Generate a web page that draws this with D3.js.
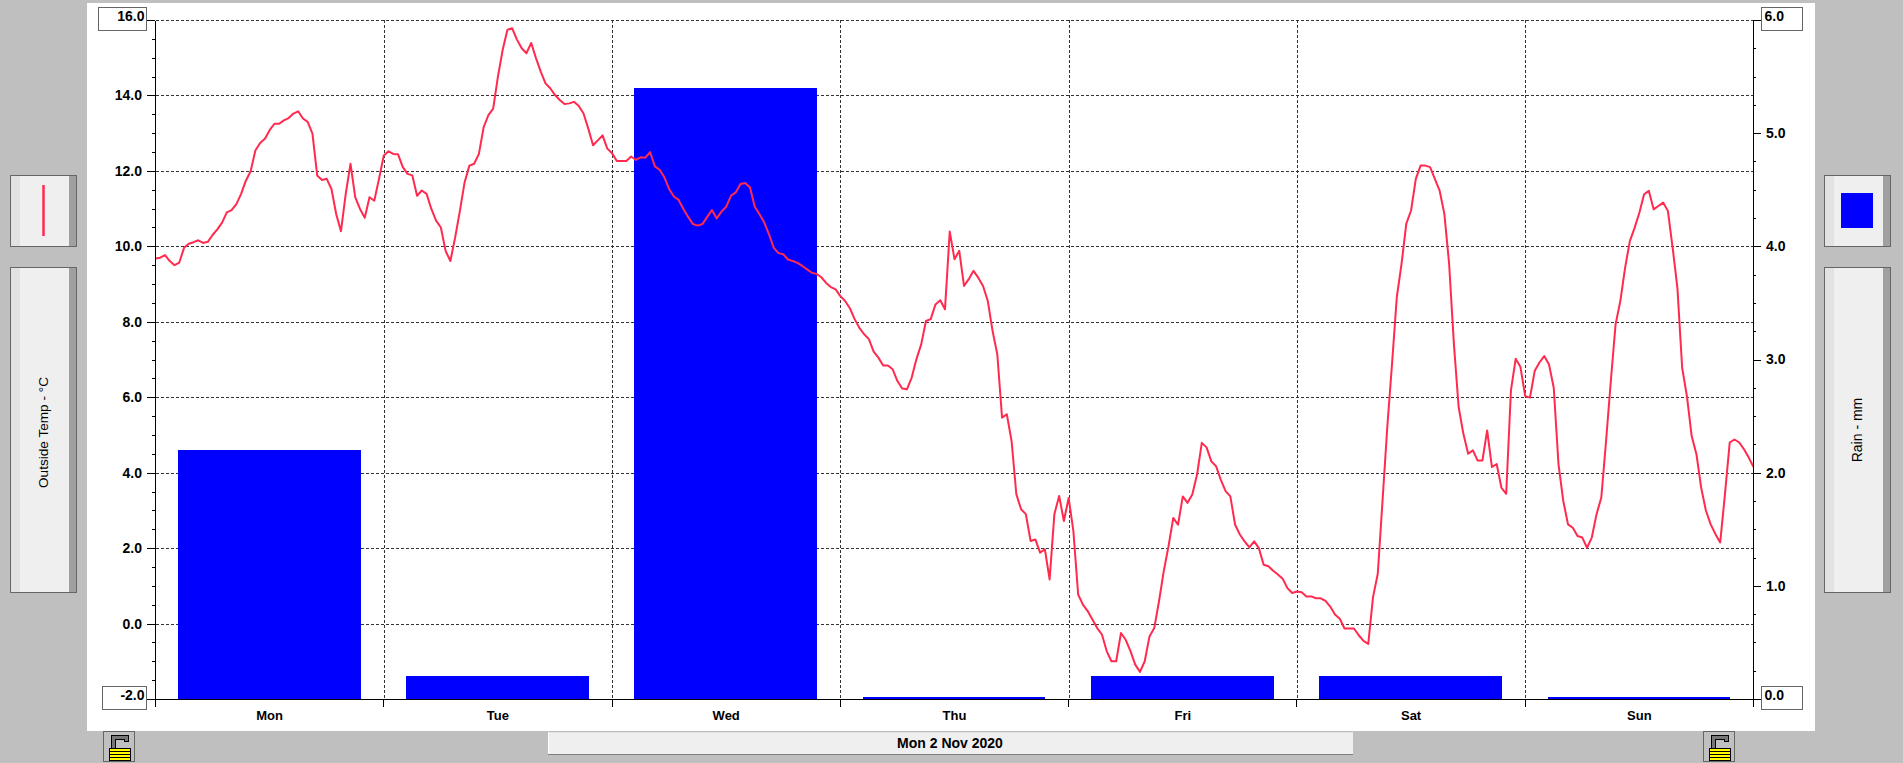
<!DOCTYPE html>
<html>
<head>
<meta charset="utf-8">
<title>Mon 2 Nov 2020</title>
<script src="https://cdnjs.cloudflare.com/ajax/libs/d3/7.8.5/d3.min.js"></script>
<style>
  body { margin: 0; background: #bfbfbf; overflow: hidden; }
  svg { display: block; }
  text { font-family: "Liberation Sans", Arial, sans-serif; fill: #000; }
  .tick-label { font-size: 14px; font-weight: bold; }
  .day-label { font-size: 13px; font-weight: bold; }
  .date-label { font-size: 14px; font-weight: bold; }
</style>
</head>
<body>
<div id="chart"></div>
<script>
// Week view of outside temperature (line, left axis) and daily rain (bars, right axis)

// Daily rain in mm
const days = ["Mon", "Tue", "Wed", "Thu", "Fri", "Sat", "Sun"];
const rain = [2.2, 0.2, 5.4, 0.02, 0.2, 0.2, 0.02];

// Outside temperature in deg C, one reading every half hour, per day
const tempMon = [9.68, 9.70, 9.77, 9.61, 9.50, 9.57, 9.96, 10.07, 10.11, 10.16, 10.09, 10.12,
  10.30, 10.45, 10.63, 10.90, 10.96, 11.12, 11.39, 11.74, 11.99, 12.54, 12.74, 12.85,
  13.08, 13.25, 13.25, 13.34, 13.40, 13.52, 13.58, 13.39, 13.30, 12.99, 11.88, 11.76,
  11.79, 11.52, 10.85, 10.40, 11.39, 12.19, 11.30, 10.99, 10.76, 11.30, 11.21, 11.79];
const tempTue = [12.41, 12.52, 12.45, 12.44, 12.10, 11.92, 11.88, 11.34, 11.48, 11.39, 10.99, 10.68,
  10.50, 9.88, 9.61, 10.23, 10.94, 11.70, 12.14, 12.19, 12.45, 13.16, 13.48, 13.65,
  14.50, 15.21, 15.74, 15.78, 15.48, 15.25, 15.12, 15.39, 14.99, 14.63, 14.32, 14.19,
  14.01, 13.88, 13.77, 13.79, 13.83, 13.72, 13.52, 13.12, 12.68, 12.81, 12.94, 12.59];
const tempWed = [12.47, 12.26, 12.26, 12.26, 12.38, 12.29, 12.36, 12.35, 12.50, 12.12, 12.03, 11.83,
  11.52, 11.32, 11.23, 10.99, 10.78, 10.59, 10.55, 10.59, 10.78, 10.96, 10.74, 10.92,
  11.05, 11.34, 11.43, 11.65, 11.68, 11.56, 11.05, 10.85, 10.63, 10.32, 9.96, 9.82,
  9.79, 9.65, 9.61, 9.56, 9.48, 9.39, 9.30, 9.27, 9.18, 9.03, 8.92, 8.86];
const tempThu = [8.68, 8.55, 8.36, 8.07, 7.84, 7.67, 7.54, 7.21, 7.05, 6.84, 6.84, 6.74,
  6.43, 6.23, 6.21, 6.52, 7.01, 7.40, 8.02, 8.07, 8.46, 8.57, 8.33, 10.39,
  9.66, 9.88, 8.95, 9.13, 9.35, 9.17, 8.95, 8.55, 7.76, 7.14, 5.46, 5.55,
  4.84, 3.43, 3.03, 2.90, 2.19, 2.23, 1.88, 1.97, 1.17, 2.90, 3.38, 2.72];
const tempFri = [3.33, 2.45, 0.77, 0.50, 0.33, 0.11, -0.12, -0.29, -0.73, -1.00, -1.00, -0.25,
  -0.43, -0.73, -1.09, -1.28, -1.00, -0.34, -0.12, 0.59, 1.39, 2.05, 2.80, 2.62,
  3.37, 3.20, 3.42, 3.95, 4.79, 4.67, 4.30, 4.17, 3.81, 3.51, 3.37, 2.62,
  2.36, 2.18, 2.02, 2.18, 2.00, 1.56, 1.52, 1.40, 1.30, 1.19, 0.94, 0.81];
const tempSat = [0.85, 0.83, 0.72, 0.72, 0.67, 0.67, 0.60, 0.45, 0.24, 0.13, -0.13, -0.13,
  -0.13, -0.31, -0.46, -0.54, 0.70, 1.32, 3.26, 5.21, 6.89, 8.65, 9.54, 10.60,
  10.95, 11.79, 12.14, 12.14, 12.10, 11.79, 11.48, 10.86, 9.54, 7.42, 5.74, 5.03,
  4.50, 4.59, 4.32, 4.32, 5.12, 4.15, 4.23, 3.60, 3.44, 6.18, 7.02, 6.80];
const tempSun = [6.03, 5.99, 6.70, 6.92, 7.09, 6.87, 6.25, 4.22, 3.25, 2.63, 2.54, 2.32,
  2.28, 2.01, 2.28, 2.90, 3.34, 4.84, 6.43, 7.93, 8.55, 9.43, 10.14, 10.49,
  10.89, 11.38, 11.47, 10.98, 11.07, 11.16, 10.94, 9.96, 8.90, 6.78, 6.03, 4.97,
  4.49, 3.60, 2.99, 2.63, 2.37, 2.15, 3.43, 4.80, 4.88, 4.80, 4.62, 4.40, 4.15];

const tempAll = [tempMon, tempTue, tempWed, tempThu, tempFri, tempSat, tempSun].flat();

const tempTicks = [-2, 0, 2, 4, 6, 8, 10, 12, 14, 16];
const rainTicks = [0, 1, 2, 3, 4, 5, 6];
const dateLabel = "Mon 2 Nov 2020";
const leftTitle = "Outside Temp - °C";
const rightTitle = "Rain - mm";

const lineColor = "#ff2a4e";
const barColor = "#0000ff";
const frameColor = "#666666";

// Plot frame inside the page
const width = 1903, height = 763;
const plot = {left: 155.5, right: 1753.5, top: 20, bottom: 699};

const svg = d3.select("#chart").append("svg")
    .attr("width", width)
    .attr("height", height);

// White panel
svg.append("rect")
    .attr("x", 87).attr("y", 3)
    .attr("width", 1728).attr("height", 728)
    .attr("fill", "#fff");

// Scales
const x = d3.scaleLinear().domain([0, 168]).range([plot.left, plot.right]);
const yTemp = d3.scaleLinear().domain([-2, 16]).range([plot.bottom, plot.top]);
const yRain = d3.scaleLinear().domain([0, 6]).range([plot.bottom, plot.top]);
const xDay = d3.scaleBand().domain(days).range([plot.left, plot.right]);
const xBar = d3.scaleBand().domain(days).range([plot.left, plot.right])
    .paddingInner(0.2).paddingOuter(0.1).align(0.49);

// Grid
const grid = svg.append("g")
    .attr("stroke", "#333")
    .attr("stroke-dasharray", "3,2")
    .attr("shape-rendering", "crispEdges");
grid.selectAll("line.h")
    .data(tempTicks.slice(1))
    .join("line")
        .attr("x1", plot.left).attr("x2", plot.right)
        .attr("y1", d => Math.round(yTemp(d)) + 0.5)
        .attr("y2", d => Math.round(yTemp(d)) + 0.5);
grid.selectAll("line.v")
    .data(d3.range(24, 168, 24))
    .join("line")
        .attr("class", "v")
        .attr("x1", d => Math.round(x(d)) + 0.5)
        .attr("x2", d => Math.round(x(d)) + 0.5)
        .attr("y1", plot.top).attr("y2", plot.bottom);

// Rain bars
svg.append("g")
    .attr("fill", barColor)
    .attr("shape-rendering", "crispEdges")
    .selectAll("rect")
    .data(days.map((d, i) => ({day: d, mm: rain[i]})))
    .join("rect")
        .attr("x", d => xBar(d.day))
        .attr("width", xBar.bandwidth())
        .attr("y", d => yRain(d.mm))
        .attr("height", d => yRain(0) - yRain(d.mm));

// Temperature line
const line = d3.line()
    .x((d, i) => x(i * 0.5))
    .y(d => yTemp(d));
svg.append("path")
    .datum(tempAll)
    .attr("d", line)
    .attr("fill", "none")
    .attr("stroke", lineColor)
    .attr("stroke-width", 2)
    .attr("stroke-linejoin", "round");

// Axes
function styleAxis(g) {
    g.attr("shape-rendering", "crispEdges");
    g.select(".domain").attr("stroke", "#000");
    g.selectAll(".tick line").attr("stroke", "#000");
}

const fmt = d => d3.format(".1f")(d).replace("\u2212", "-");

// Left axis, minor ticks every 0.5, labels for the inner majors
svg.append("g")
    .attr("transform", `translate(${plot.left - 0.5},0)`)
    .call(d3.axisLeft(yTemp).tickValues(d3.range(-2, 16.01, 0.5)).tickSize(3).tickSizeOuter(0).tickFormat(""))
    .call(styleAxis);
svg.append("g")
    .attr("transform", `translate(${plot.left - 0.5},0)`)
    .call(d3.axisLeft(yTemp).tickValues(tempTicks).tickSize(8).tickSizeOuter(0).tickPadding(5)
        .tickFormat(d => (d === -2 || d === 16) ? "" : fmt(d)))
    .call(styleAxis)
    .selectAll("text").attr("class", "tick-label");

// Right axis, minor ticks every 0.25 mm
svg.append("g")
    .attr("transform", `translate(${plot.right - 0.5},0)`)
    .call(d3.axisRight(yRain).tickValues(d3.range(0, 6.01, 0.25)).tickSize(3).tickSizeOuter(0).tickFormat(""))
    .call(styleAxis);
svg.append("g")
    .attr("transform", `translate(${plot.right - 0.5},0)`)
    .call(d3.axisRight(yRain).tickValues(rainTicks).tickSize(8).tickSizeOuter(0).tickPadding(5)
        .tickFormat(d => (d === 0 || d === 6) ? "" : fmt(d)))
    .call(styleAxis)
    .selectAll("text").attr("class", "tick-label");

// Bottom axis: day boundaries and names
svg.append("g")
    .attr("transform", `translate(-0.5,${plot.bottom})`)
    .call(d3.axisBottom(x).tickValues(d3.range(0, 169, 24)).tickSize(8).tickSizeOuter(0).tickFormat(""))
    .call(styleAxis);
svg.append("g")
    .attr("transform", `translate(0,${plot.bottom})`)
    .call(d3.axisBottom(xDay).tickSize(0).tickPadding(12))
    .call(g => g.select(".domain").remove())
    .selectAll("text").attr("class", "day-label");

// Boxes holding the end values of both axes
function valueBox(bx, by, w, label, anchor, tx) {
    svg.append("rect")
        .attr("x", bx + 0.5).attr("y", by + 0.5)
        .attr("width", w).attr("height", 23)
        .attr("fill", "#fff").attr("stroke", frameColor)
        .attr("shape-rendering", "crispEdges");
    svg.append("text")
        .attr("class", "tick-label")
        .attr("x", tx).attr("y", by + 10)
        .attr("dy", "0.32em")
        .attr("text-anchor", anchor)
        .text(label);
}
valueBox(98, 7, 48, fmt(16), "end", 144.5);
valueBox(102, 686, 44, fmt(-2), "end", 144.5);
valueBox(1761, 7, 41, fmt(6), "start", 1764.5);
valueBox(1761, 686, 41, fmt(0), "start", 1764.5);

// Side controls
function button(bx, by, w, h) {
    const g = svg.append("g").attr("shape-rendering", "crispEdges");
    g.append("rect").attr("x", bx).attr("y", by).attr("width", w).attr("height", h).attr("fill", "#efefef");
    g.append("rect").attr("x", bx).attr("y", by).attr("width", 10).attr("height", h).attr("fill", "#e2e2e2");
    g.append("rect").attr("x", bx + w - 8).attr("y", by).attr("width", 8).attr("height", h).attr("fill", "#a0a0a0");
    g.append("rect").attr("x", bx + 0.5).attr("y", by + 0.5).attr("width", w - 1).attr("height", h - 1)
        .attr("fill", "none").attr("stroke", frameColor);
}
button(10, 175, 67, 72);
button(10, 267, 67, 326);
button(1824, 175, 67, 72);
button(1824, 267, 67, 326);

// Legend keys
svg.append("line")
    .attr("x1", 43.5).attr("x2", 43.5).attr("y1", 185).attr("y2", 236)
    .attr("stroke", lineColor).attr("stroke-width", 2.5);
svg.append("rect")
    .attr("x", 1841).attr("y", 193).attr("width", 32).attr("height", 35)
    .attr("fill", barColor);

// Axis titles
svg.append("text")
    .attr("transform", "translate(43.5,432.5) rotate(-90)")
    .attr("text-anchor", "middle").attr("dy", "0.35em")
    .style("font-size", "13.6px")
    .text(leftTitle);
svg.append("text")
    .attr("transform", "translate(1857.5,430) rotate(-90)")
    .attr("text-anchor", "middle").attr("dy", "0.35em")
    .style("font-size", "14px")
    .text(rightTitle);

// Date bar under the plot
const bar = svg.append("g").attr("shape-rendering", "crispEdges");
bar.append("rect").attr("x", 548).attr("y", 732).attr("width", 805).attr("height", 23).attr("fill", "#efefef");
bar.append("rect").attr("x", 548).attr("y", 732).attr("width", 805).attr("height", 1).attr("fill", "#e0e0e0");
bar.append("rect").attr("x", 548).attr("y", 732).attr("width", 1).attr("height", 23).attr("fill", "#fff");
bar.append("rect").attr("x", 548).attr("y", 754).attr("width", 805).attr("height", 1).attr("fill", "#808080");
svg.append("text")
    .attr("class", "date-label")
    .attr("x", 950).attr("y", 743)
    .attr("dy", "0.35em").attr("text-anchor", "middle")
    .text(dateLabel);

// Padlocks at the bottom corners
function padlock(lx, ly) {
    const g = svg.append("g").attr("transform", `translate(${lx},${ly})`).attr("shape-rendering", "crispEdges");
    g.append("rect").attr("x", 0.5).attr("y", 0.5).attr("width", 31).attr("height", 30)
        .attr("fill", "#c0c0c0").attr("stroke", frameColor);
    g.append("path")
        .attr("d", "M10.5,17 V6 H23.5 V11")
        .attr("fill", "none").attr("stroke", "#000").attr("stroke-width", 5);
    g.append("path")
        .attr("d", "M10.5,17 V6 H23.5 V10")
        .attr("fill", "none").attr("stroke", "#777").attr("stroke-width", 3);
    g.append("rect").attr("x", 6.5).attr("y", 17.5).attr("width", 21).attr("height", 12)
        .attr("fill", "#ffff00").attr("stroke", "#000");
    [20.5, 23.5, 26.5].forEach(ly2 => g.append("line")
        .attr("x1", 7).attr("x2", 27).attr("y1", ly2).attr("y2", ly2).attr("stroke", "#000"));
}
padlock(103, 731);
padlock(1703, 731);
</script>
</body>
</html>
